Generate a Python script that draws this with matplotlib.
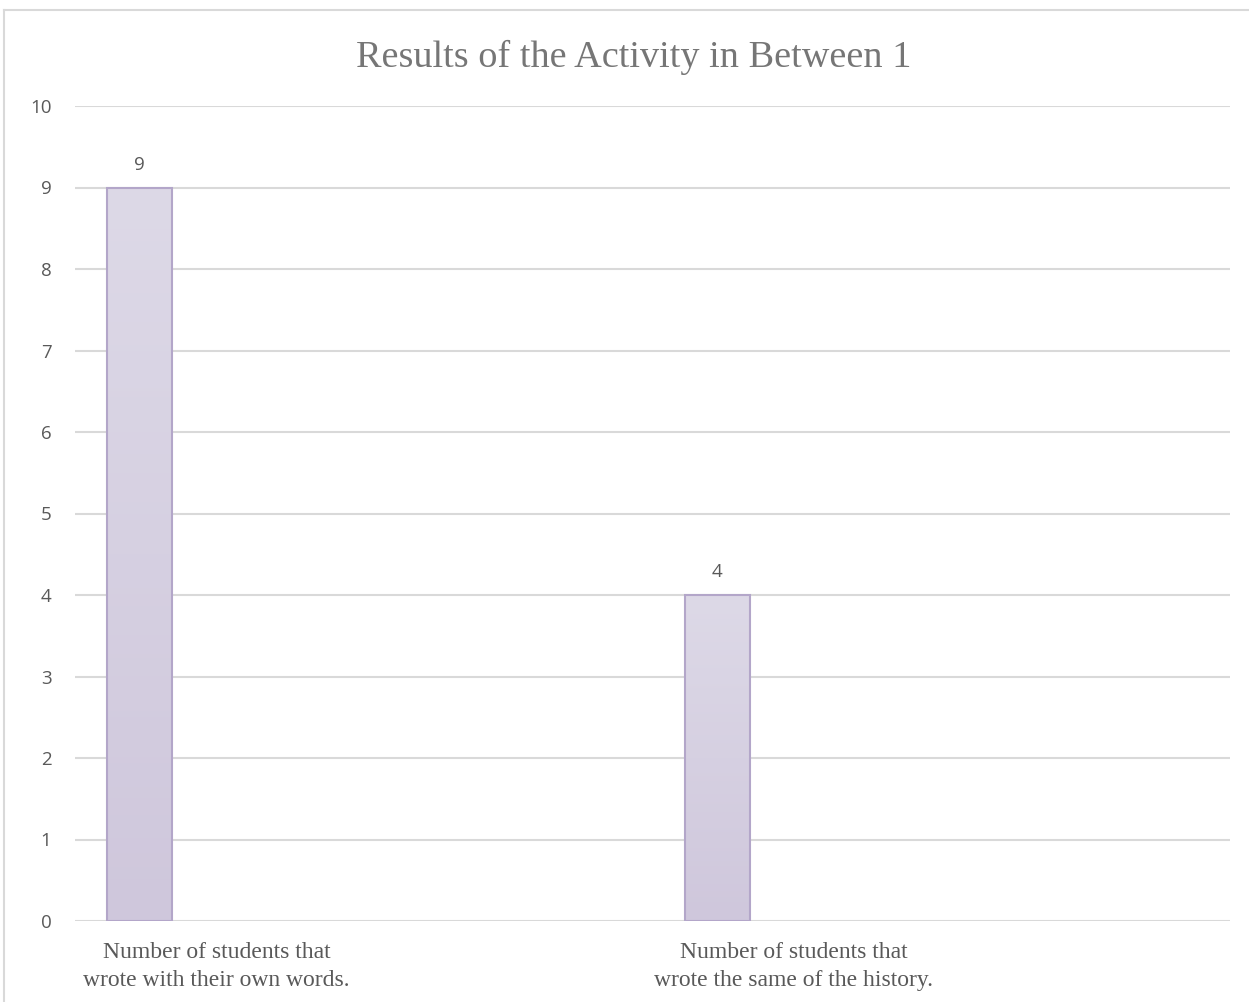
import numpy as np
import matplotlib
matplotlib.use("Agg")
import matplotlib.pyplot as plt
from matplotlib.lines import Line2D

# chart data
title = "Results of the Activity in Between 1"
categories = [
    "Number of students that\nwrote with their own words.",
    "Number of students that\nwrote the same of the history.",
]
values = [9, 4]
y_ticks = list(range(0, 11))

W, H = 1249, 1002
fig = plt.figure(figsize=(W / 100, H / 100), dpi=100)
ax = fig.add_axes([75 / W, 1 - 921 / H, (1230 - 75) / W, (921 - 106) / H])

gray = "#595959"
grid_c = "#d9d9d9"

ax.set_xlim(-0.5, 1.5)
ax.set_ylim(0, 10)
ax.set_yticks(y_ticks)
ax.set_yticklabels([str(t) for t in y_ticks], family="Open Sans", fontsize=13.5, color=gray)
ax.tick_params(axis="y", length=0, pad=17)
ax.grid(axis="y", color=grid_c, linewidth=1.5)
ax.set_axisbelow(True)
for s in ax.spines.values():
    s.set_visible(False)

# bars sit at the left of each category slot
offset = -0.388
width = 0.1126
xs = np.arange(len(values)) + offset
bars = ax.bar(xs, values, width=width, color="none", edgecolor="#b3a6c9", linewidth=1.5, zorder=3)

grad = np.linspace(0, 1, 256).reshape(-1, 1)
cmap = matplotlib.colors.LinearSegmentedColormap.from_list("g", ["#cfc7dc", "#ddd9e7"])
for b in bars:
    x0, w, h = b.get_x(), b.get_width(), b.get_height()
    im = ax.imshow(grad, cmap=cmap, aspect="auto", origin="lower",
                   extent=(x0, x0 + w, 0, h), zorder=2)
    im.set_clip_path(b)
    ax.text(x0 + w / 2, h + 0.17, str(h), ha="center", va="bottom",
            family="Open Sans", fontsize=13.5, color=gray)

ax.set_xlim(-0.5, 1.5)
ax.set_ylim(0, 10)

ax.set_xticks(np.arange(len(categories)) - 0.255)
ax.set_xticklabels(categories, family="Liberation Serif", fontsize=17, color=gray,
                   linespacing=1.42)
ax.tick_params(axis="x", length=0, pad=15)

fig.text(634 / W, 1 - 57 / H, title, ha="center", va="center",
         family="Liberation Serif", fontsize=27.5, color="#767676")

# outer chart border (top and left visible)
fig.add_artist(Line2D([4 / W, 1.0], [1 - 10 / H, 1 - 10 / H], transform=fig.transFigure,
                      color="#d9d9d9", linewidth=1.5))
fig.add_artist(Line2D([4 / W, 4 / W], [0.0, 1 - 10 / H], transform=fig.transFigure,
                      color="#d9d9d9", linewidth=1.5))

fig.savefig("out.png", dpi=100)
